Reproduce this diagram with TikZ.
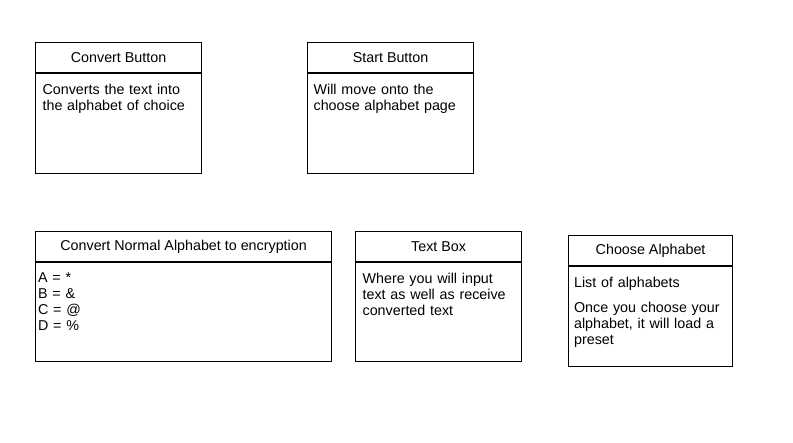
\documentclass[tikz,border=0pt]{standalone}
\usepackage{fontspec}
\setmainfont{Liberation Sans}
\usetikzlibrary{positioning}
\begin{document}
\begin{tikzpicture}[x=1pt,y=-1pt]
\tikzstyle{every node}=[font=\fontsize{14.3}{16}\selectfont]
\tikzstyle{title}=[draw, line width=1.2pt, anchor=north west, minimum height=30pt, inner sep=0pt]
\tikzstyle{body}=[draw, line width=1.2pt, anchor=north west, align=left, inner xsep=7pt, inner ysep=4pt, text height=17pt, text depth=75pt]

% white page
\useasboundingbox [fill=white] (0,0) rectangle (793,443);

% top row
\node[title, minimum width=166pt] (convtitle) at (35,42) {Convert Button};
\node[body, text width=152pt] (convbody) at (convtitle.south west) {Converts the text into\\the alphabet of choice};

\node[title, minimum width=166pt] (starttitle) at (307,42) {Start Button};
\node[body, inner xsep=6pt, text width=154pt] (startbody) at (starttitle.south west) {Will move onto the\\choose alphabet page};

% bottom row
\node[title, minimum width=296pt] (encrtitle) at (35,231) {Convert Normal Alphabet to encryption};
\node[body, inner xsep=2.5pt, text width=291pt, text height=16pt, text depth=75pt] (encrbody) at (encrtitle.south west) {A = *\\B = \&\\C = @\\D = \%};

\node[title, minimum width=166pt] (texttitle) at (355,231) {Text Box};
\node[body, text width=152pt, text depth=74pt] (textbody) at (texttitle.south west) {Where you will input\\text as well as receive\\converted text};

\node[title, minimum width=164pt] (choosetitle) at (568,235) {Choose Alphabet};
\node[body, inner xsep=5.5pt, text width=153pt] (choosebody) at (choosetitle.south west) {List of alphabets\\[9pt]Once you choose your\\alphabet, it will load a\\preset};

\end{tikzpicture}
\end{document}
